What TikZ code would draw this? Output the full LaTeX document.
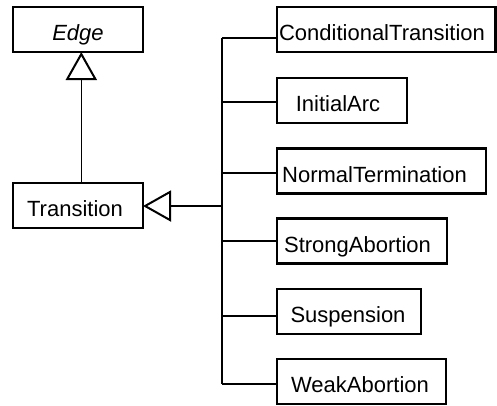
\documentclass[tikz,border=0pt]{standalone}
\usepackage{fontspec}
\setmainfont{Liberation Sans}
\usetikzlibrary{arrows.meta}
\begin{document}
\begin{tikzpicture}[x=1pt,y=-1pt,
  cls/.style={draw=black, line width=2.2pt, fill=white, minimum height=45pt, inner sep=0pt, outer sep=0pt},
  lbl/.style={inner sep=0pt, font=\fontsize{22}{26}\selectfont, text height=16pt, text depth=5pt},
  wire/.style={line width=1.6pt},
  bus/.style={line width=2pt},
  trunk/.style={line width=2.4pt},
  inherit/.style={-{Triangle[open, length=28pt, width=31pt, line width=2pt]}}
]
\useasboundingbox (0,0) rectangle (497,405);

% class boxes
\node[cls, minimum width=130pt]   (edge)   at (78,29.5)    {};
\node[cls, minimum width=130pt]   (trans)  at (78,205.5)   {};
\node[cls, minimum width=218.5pt] (cond)   at (386.25,29.5){};
\node[cls, minimum width=130pt]   (init)   at (342,100.5)  {};
\node[cls, minimum width=209pt]   (norm)   at (381.5,171)  {};
\node[cls, minimum width=170pt]   (strong) at (362,241)    {};
\node[cls, minimum width=144pt]   (susp)   at (349,311.5)  {};
\node[cls, minimum width=169pt]   (weak)   at (361.5,381.5){};

% class names
\node[lbl] (edgeT)   at (78,35)    {\itshape Edge};
\node[lbl] (transT)  at (75,211)   {Transition};
\node[lbl] (condT)   at (382,35)   {ConditionalTransition};
\node[lbl] (initT)   at (338,106)  {InitialArc};
\node[lbl] (normT)   at (374.5,176.5) {NormalTermination};
\node[lbl] (strongT) at (357.5,246.5) {StrongAbortion};
\node[lbl] (suspT)   at (348,317)  {Suspension};
\node[lbl] (weakT)   at (360,387)  {WeakAbortion};

% bus of the subclasses
\coordinate (b1)  at (222,38);
\coordinate (b2)  at (222,102);
\coordinate (b3)  at (222,173);
\coordinate (hub) at (222,206);
\coordinate (b4)  at (222,241);
\coordinate (b5)  at (222,316);
\coordinate (b6)  at (222,384);

\draw[wire] (b1) -- (b2);
\draw[bus] (b2) -- (b3);
\draw[bus] (b4) -- (b6);
\draw[trunk] (b3) -- (b4);
\draw[wire] (b1) -- (b1 -| cond.west);
\draw[wire] (b2) -- (b2 -| init.west);
\draw[wire] (b3) -- (b3 -| norm.west);
\draw[wire] (b4) -- (b4 -| strong.west);
\draw[wire] (b5) -- (b5 -| susp.west);
\draw[wire] (b6) -- (b6 -| weak.west);

% generalisations
\draw[trunk, inherit] (hub) -- (hub -| trans.east);
\draw[wire, inherit] ([xshift=3.3pt]trans.north) -- ([xshift=3.3pt]edge.south);
\end{tikzpicture}
\end{document}
